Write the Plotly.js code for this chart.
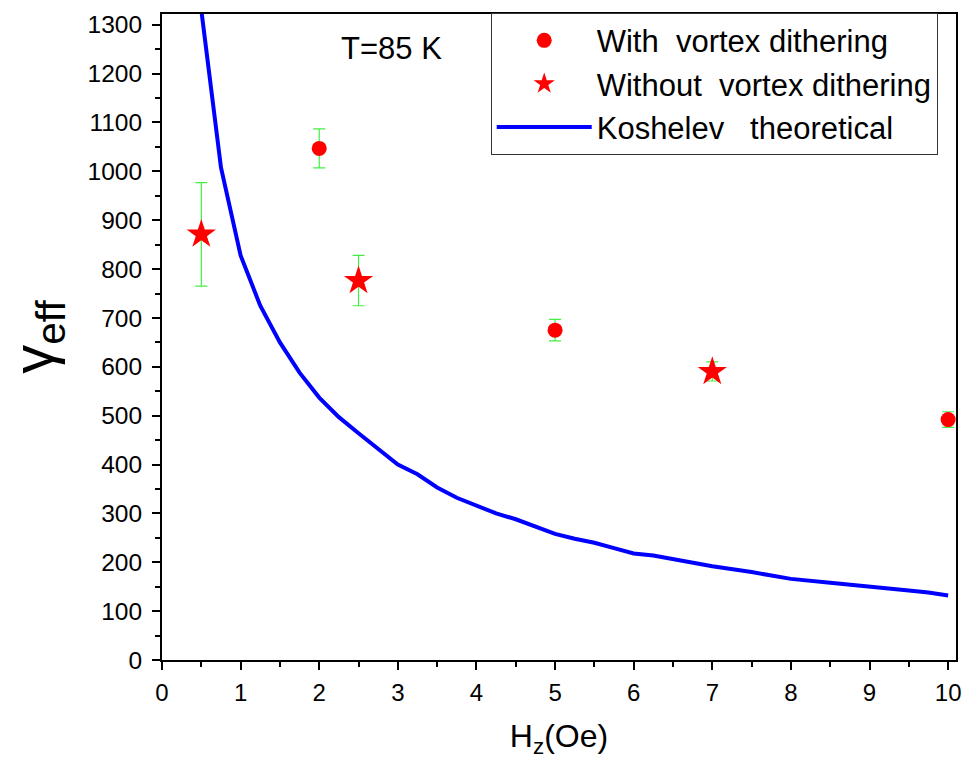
<!DOCTYPE html>
<html><head><meta charset="utf-8">
<script src="https://cdn.plot.ly/plotly-3.0.1.min.js"></script>
<style>html,body{margin:0;padding:0;background:#fff}#plot{width:966px;height:763px}</style>
</head><body><div id="plot"></div>
<script>
// With vortex dithering
const withX = [2, 5, 10];
const withY = [1047, 675, 492];
const withErr = [40, 22, 16];
// Without vortex dithering
const withoutX = [0.5, 2.5, 7];
const withoutY = [871, 776, 590];
const withoutErrPlus = [106, 52, 20];
const withoutErrMinus = [106, 51, 19];
// Koshelev theoretical
const koshX = [0.5, 0.75, 1, 1.25, 1.5, 1.75, 2, 2.25, 2.5, 2.75, 3, 3.25, 3.5, 3.75, 4, 4.25, 4.5, 4.75, 5, 5.25, 5.5, 5.75, 6, 6.25, 6.5, 7, 7.5, 8, 8.5, 9, 9.5, 9.75, 10];
const koshY = [1330, 1008, 828, 725, 650, 588, 537, 497, 464, 432, 400, 380, 353, 332, 315, 300, 288, 274, 258, 248, 240, 229, 218, 214, 206, 192, 180, 166, 158, 149, 142, 138, 132];

const F = 'Arial, "Liberation Sans", sans-serif';
const errStyle = {type:'data', color:'#44ee44', thickness:1.2, width:6};

const traces = [
  {x: koshX, y: koshY, type:'scatter', mode:'lines', name:'Koshelev\u00a0\u00a0\u00a0theoretical',
   line:{color:'#0000ff', width:4}, legendrank:3},
  {x: withX, y: withY, type:'scatter', mode:'markers', name:'With\u00a0\u00a0vortex dithering',
   marker:{symbol:'circle', size:15, color:'#ff0000'}, legendrank:1,
   error_y:Object.assign({array: withErr}, errStyle)},
  {x: withoutX, y: withoutY, type:'scatter', mode:'markers', name:'Without\u00a0\u00a0vortex dithering',
   marker:{symbol:'star', size:22, color:'#ff0000'}, legendrank:2,
   error_y:Object.assign({symmetric:false, array: withoutErrPlus, arrayminus: withoutErrMinus}, errStyle)}
];

const layout = {
  width:966, height:763,
  margin:{l:162, r:10, t:14, b:103},
  paper_bgcolor:'#fff', plot_bgcolor:'#fff',
  font:{family:F, color:'#000'},
  showlegend:true,
  legend:{x:0.414, y:1.002, xanchor:'left', yanchor:'top', bordercolor:'#333', borderwidth:1,
    bgcolor:'#fff', font:{size:31, family:F}, traceorder:'normal', tracegroupgap:0, itemwidth:95,
    entrywidth:360, entrywidthmode:'pixels'},
  xaxis:{range:[0,10.1], tickvals:[0,1,2,3,4,5,6,7,8,9,10], ticks:'outside', ticklen:8, tickwidth:2,
    tickcolor:'#000', showline:true, linecolor:'#000', linewidth:2, mirror:true, showgrid:false, zeroline:false,
    tickfont:{size:24, family:F}, ticklabelstandoff:2,
    minor:{dtick:0.5, ticks:'outside', ticklen:5, tickwidth:2, tickcolor:'#000', showgrid:false},
    title:{text:'H<sub>z</sub>(Oe)', font:{size:32, family:F}, standoff:20}},
  yaxis:{range:[0,1322], tickvals:[0,100,200,300,400,500,600,700,800,900,1000,1100,1200,1300], ticks:'outside', ticklen:8, tickwidth:2,
    tickcolor:'#000', showline:true, linecolor:'#000', linewidth:2, mirror:true, showgrid:false, zeroline:false,
    tickfont:{size:24.5, family:F}, ticklabelstandoff:5,
    minor:{dtick:50, ticks:'outside', ticklen:5, tickwidth:2, tickcolor:'#000', showgrid:false},
    title:{text:'γ<sub>eff</sub>', font:{size:58, family:F}, standoff:28}},
  annotations:[{text:'T=85 K', xref:'paper', yref:'paper', showarrow:false,
    xanchor:'center', yanchor:'middle', font:{size:31, family:F}}]
};
layout.annotations[0].x = (391-162)/794;
layout.annotations[0].y = (660-48)/646;

Plotly.newPlot('plot', traces, layout, {displayModeBar:false, staticPlot:true});
</script></body></html>
